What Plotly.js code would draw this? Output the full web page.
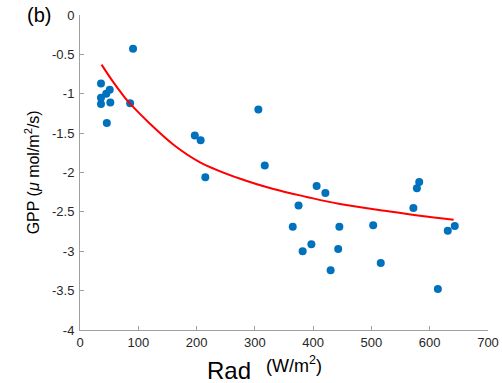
<!DOCTYPE html>
<html>
<head>
<meta charset="utf-8">
<script src="https://cdn.plot.ly/plotly-3.0.1.min.js"></script>
<style>html,body{margin:0;padding:0;background:#fff;}#chart{width:502px;height:383px;}</style>
</head>
<body>
<div id="chart"></div>
<script>
// Observed points: radiation (W/m2) and GPP (umol/m2/s)
const radObs = [36, 36, 36, 45, 51, 52, 46, 86, 91, 197, 207, 215, 306, 317, 365, 375, 382, 397, 406, 421, 430, 443, 445, 503, 516, 572, 578, 582, 614, 631, 643];
const gppObs = [-0.87, -1.05, -1.13, -1.00, -0.95, -1.11, -1.37, -1.12, -0.43, -1.53, -1.59, -2.06, -1.20, -1.91, -2.69, -2.42, -3.00, -2.91, -2.17, -2.26, -3.24, -2.97, -2.69, -2.67, -3.15, -2.45, -2.20, -2.12, -3.48, -2.74, -2.68];
// Fitted curve
const radFit = [37, 55, 75, 84, 120, 161, 206, 275, 332, 389, 446, 526, 583, 641];
const gppFit = [-0.63, -0.83, -1.03, -1.11, -1.38, -1.65, -1.87, -2.08, -2.21, -2.31, -2.40, -2.49, -2.55, -2.60];
const xTicks = [0, 100, 200, 300, 400, 500, 600, 700];
const yTicks = [0, -0.5, -1, -1.5, -2, -2.5, -3, -3.5, -4];

const font = 'Liberation Sans, Arial, Helvetica, sans-serif';
const data = [
  {x: radObs, y: gppObs, type: 'scatter', mode: 'markers',
   marker: {color: '#0072BD', size: 8}, showlegend: false, cliponaxis: false},
  {x: radFit, y: gppFit, type: 'scatter', mode: 'lines', line: {color: '#FF0000', width: 2, shape: 'spline', smoothing: 1},
   showlegend: false}
];
const axisCommon = {
  showgrid: false, zeroline: false, showline: true, linecolor: '#a0a0a0', linewidth: 1,
  ticks: 'inside', ticklen: 4, tickcolor: '#a0a0a0', tickwidth: 1,
  tickfont: {family: font, size: 13, color: '#262626'}, mirror: false
};
const layout = {
  width: 502, height: 383,
  margin: {l: 79.5, r: 14, t: 14.6, b: 53.3},
  paper_bgcolor: '#fff', plot_bgcolor: '#fff',
  xaxis: Object.assign({}, axisCommon, {range: [0, 700], tickvals: xTicks, ticktext: xTicks.map(String)}),
  yaxis: Object.assign({}, axisCommon, {range: [-4, 0], tickvals: yTicks, ticktext: yTicks.map(String), ticklabelstandoff: 2}),
  annotations: [
    {text: '(b)', xref: 'paper', yref: 'paper', x: -0.066, y: 1.0, xanchor: 'right', yanchor: 'middle',
     showarrow: false, font: {family: font, size: 20, color: '#000'}},
    {text: 'GPP (<i>μ</i> mol/m<sup>2</sup>/s)', xref: 'paper', yref: 'paper', x: -0.118, y: 0.5,
     xanchor: 'center', yanchor: 'middle', textangle: -90, showarrow: false,
     font: {family: font, size: 16, color: '#000'}},
    {text: 'Rad', xref: 'paper', yref: 'paper', x: 0.307, y: -0.08, xanchor: 'left', yanchor: 'top',
     showarrow: false, font: {family: font, size: 24, color: '#000'}},
    {text: '(W/m<sup>2</sup>)', xref: 'paper', yref: 'paper', x: 0.450, y: -0.068, xanchor: 'left', yanchor: 'top',
     showarrow: false, font: {family: font, size: 18, color: '#000'}}
  ]
};
Plotly.newPlot('chart', data, layout, {displayModeBar: false, staticPlot: true});
</script>
</body>
</html>
